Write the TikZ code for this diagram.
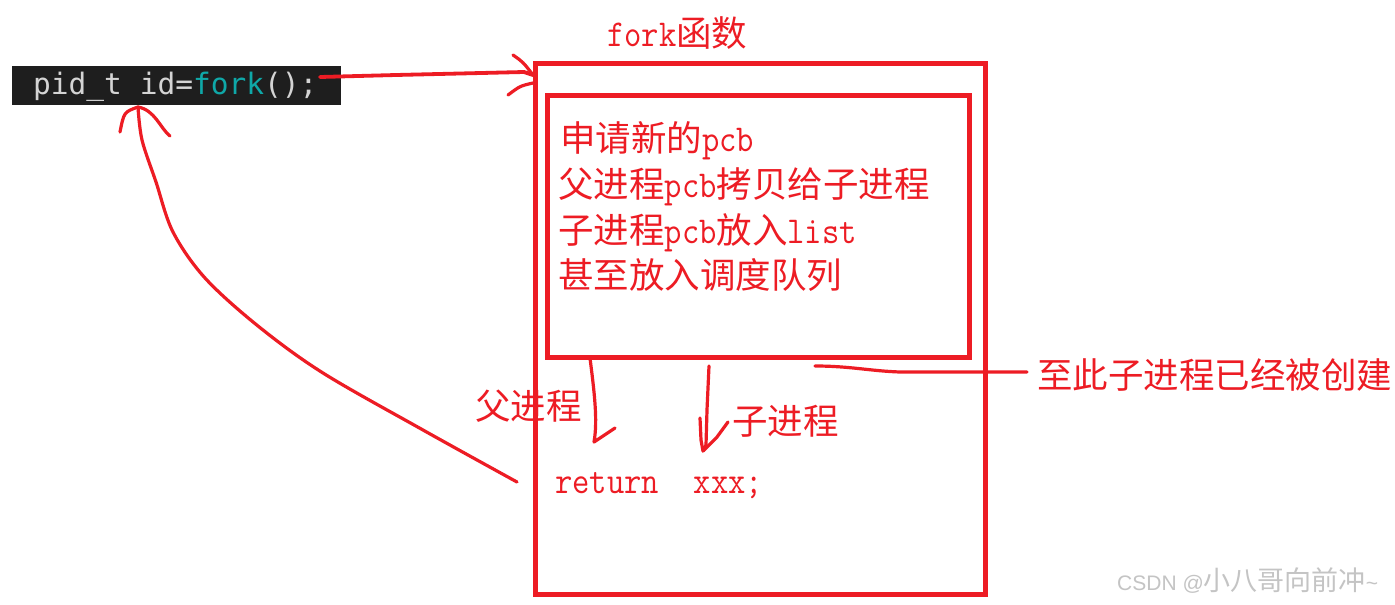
\documentclass[tikz,border=0pt]{standalone}
\usepackage{fontspec}
\usepackage{graphicx}
\newfontfamily\cjk{Noto Sans CJK SC}
\newfontfamily\codefont{DejaVu Sans Mono}
\setsansfont{Liberation Sans}
\definecolor{pr}{HTML}{ED1C24}
\definecolor{codebg}{HTML}{1E1E1E}
\definecolor{codefg}{HTML}{D4D4D4}
\definecolor{codefn}{HTML}{0FA8A8}
\definecolor{wm}{HTML}{C4C4C4}
\newcommand\lt[1]{\scalebox{0.885}[1]{\fontsize{38}{40}\selectfont\ttfamily #1}}
\newcommand\zh[1]{{\fontsize{35.5}{40}\selectfont\cjk #1}}
\begin{document}
\begin{tikzpicture}[x=1pt,y=-1pt,
  box/.style={draw=pr,line width=5pt,inner sep=0pt,outer sep=0pt,anchor=north west},
  pen/.style={draw=pr,line width=3.2pt,line cap=round,line join=round},
  lbl/.style={text=pr,inner sep=0pt,anchor=base west}]
\useasboundingbox (0,0) rectangle (1395,605);
\fill[white] (0,0) rectangle (1395,605);

% code snippet
\node[fill=codebg,inner sep=0pt,outer sep=0pt,anchor=north west,minimum width=329pt,minimum height=39pt] (code) at (12,66) {};
\node[anchor=base west,inner sep=0pt,text=codefg,font=\codefont\fontsize{29.5}{30}\selectfont] (codetxt) at (33,94) {pid\_t id=\textcolor{codefn}{fork}();};

% boxes
\node[box,minimum width=450pt,minimum height=531pt] (outer) at (535,63) {};
\node[box,minimum width=422pt,minimum height=262pt] (inner) at (547,95) {};

% texts
\node[lbl] (title) at (607,46) {\lt{fork}\zh{函数}};
\node[lbl] (l1) at (560,151) {\zh{申请新的}\lt{pcb}};
\node[lbl] (l2) at (558,197) {\zh{父进程}\lt{pcb}\zh{拷贝给子进程}};
\node[lbl] (l3) at (558,243) {\zh{子进程}\lt{pcb}\zh{放入}\lt{list}};
\node[lbl] (l4) at (558,288) {\zh{甚至放入调度队列}};
\node[lbl] (parent) at (475,419) {\zh{父进程}};
\node[lbl] (child) at (732,434) {\zh{子进程}};
\node[lbl] (ret) at (555,493) {\lt{return~~xxx;}};
\node[lbl] (note) at (1037,388) {\zh{至此子进程已经被创建}};
\node[anchor=base west,inner sep=0pt,text=wm,font=\sffamily\fontsize{21}{21}\selectfont] (wmk) at (1117,590) {CSDN @{\cjk\fontsize{27}{27}\selectfont 小八哥向前冲}\textasciitilde};

% connector: code -> fork box
\coordinate (a1s) at (320,77);
\coordinate (a1e) at (533,75);
\draw[pen,line width=3.8pt] (a1s) -- (396,75) -- (524,72) -- (a1e);
\draw[pen] (513,55) .. controls (523,62) .. (a1e);
\draw[pen] (508,95) .. controls (520,86) .. (533,83);

% connector: return -> id
\coordinate (a2s) at (517,482);
\coordinate (a2e) at (138,107);
\draw[pen] plot[smooth,tension=0.55] coordinates {(a2s) (423,430) (323,373) (258,326) (205,278) (173,232) (156,182) (142,140) (a2e)};
\draw[pen] (a2e) .. controls (124,112) .. (120,132);
\draw[pen] (a2e) .. controls (155,110) and (160,128) .. (170,136);

% parent arrow
\coordinate (a3s) at (590,358);
\coordinate (a3e) at (594,442);
\draw[pen] (a3s) .. controls (594,390) and (598,420) .. (a3e) -- (615,428);

% child arrow
\coordinate (a4s) at (709,366);
\coordinate (a4e) at (703,451);
\draw[pen] (a4s) -- (707,410) -- (706,445) -- (a4e);
\draw[pen] (700,418) -- (701,440) -- (a4e) -- (717,437) -- (728,422);

% note line
\coordinate (a5s) at (815,366);
\coordinate (a5e) at (1027,372);
\draw[pen] (a5s) .. controls (850,366) and (870,371) .. (900,372) -- (985,372) -- (a5e);
\end{tikzpicture}
\end{document}
